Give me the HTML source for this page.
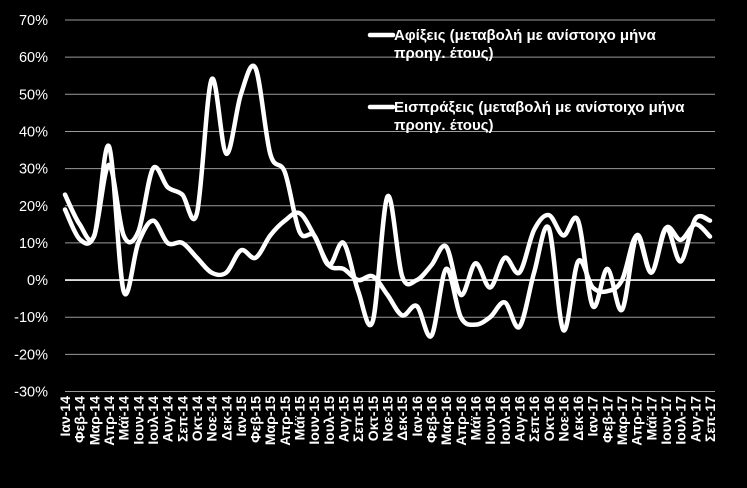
<!DOCTYPE html>
<html><head><meta charset="utf-8"><style>
html,body{margin:0;padding:0;background:#000;}
svg{display:block;font-family:"Liberation Sans","DejaVu Sans",sans-serif;}
</style></head><body>
<svg id="chart" width="747" height="488" viewBox="0 0 747 488">
<rect width="747" height="488" fill="#000"/>
<g id="grid"></g>
<g id="yaxis"></g>
<g id="xaxis"></g>
<g id="series"></g>
<g font-weight="bold" font-size="15" fill="#fff">
  <g>
    <line x1="370" y1="35" x2="393" y2="35" stroke="#fff" stroke-width="4.5" stroke-linecap="round"/>
    <text x="394" y="40">Αφίξεις (μεταβολή με ανίστοιχο μήνα</text>
    <text x="394" y="58">προηγ. έτους)</text>
  </g>
  <g>
    <line x1="370" y1="107" x2="393" y2="107" stroke="#fff" stroke-width="4.5" stroke-linecap="round"/>
    <text x="394" y="112">Εισπράξεις (μεταβολή με ανίστοιχο μήνα</text>
    <text x="394" y="130">προηγ. έτους)</text>
  </g>
</g>
</svg>
<script>
const categories = ["Ιαν-14","Φεβ-14","Μαρ-14","Απρ-14","Μάϊ-14","Ιουν-14","Ιουλ-14","Αυγ-14","Σεπ-14","Οκτ-14","Νοε-14","Δεκ-14",
"Ιαν-15","Φεβ-15","Μαρ-15","Απρ-15","Μάϊ-15","Ιουν-15","Ιουλ-15","Αυγ-15","Σεπ-15","Οκτ-15","Νοε-15","Δεκ-15",
"Ιαν-16","Φεβ-16","Μαρ-16","Απρ-16","Μάϊ-16","Ιουν-16","Ιουλ-16","Αυγ-16","Σεπ-16","Οκτ-16","Νοε-16","Δεκ-16",
"Ιαν-17","Φεβ-17","Μαρ-17","Απρ-17","Μάϊ-17","Ιουν-17","Ιουλ-17","Αυγ-17","Σεπ-17"];
const receipts = [19,11,12,31,12,13,30,25,23,18,54,34,50,57,34,29,13,12,4,10,-3,-11,22.5,1,0,4,9,-4,4.5,-2,6,2,13.5,17.5,12,16,-7,3,-8,12,2,14,5,16.5,16];
const arrivals = [23,15,12,36,-3,10,16,10,10,6,2,2,8,6,12,16,18,12,4,3,0,1,-4,-9.5,-7,-15,3,-10,-12,-10,-6,-12.6,2,14,-13.5,5,-2,-3,0,12,2,14,10.8,15,11.7];
const yTicks = [-30,-20,-10,0,10,20,30,40,50,60,70];

const NS="http://www.w3.org/2000/svg";
const x0=65, x1=710, gx1=715, yTop=20, yBot=391.5, vMin=-30, vMax=70;
function xScale(i){return x0+(x1-x0)*i/(categories.length-1);}
function yScale(v){return yBot-(v-vMin)/(vMax-vMin)*(yBot-yTop);}
function mk(tag,attrs,parent){const e=document.createElementNS(NS,tag);for(const k in attrs)e.setAttribute(k,attrs[k]);parent.appendChild(e);return e;}

const grid=document.getElementById('grid'), yax=document.getElementById('yaxis'), xax=document.getElementById('xaxis'), ser=document.getElementById('series');
yTicks.forEach(t=>{
  const y=yScale(t);
  const l=mk('line',{x1:x0,x2:gx1,y1:y,y2:y,stroke:t===0?'#fff':'#9a9a9a','stroke-width':t===0?1.6:1},grid);
  
  
  const tx=mk('text',{x:48,y:y+5,'text-anchor':'end','font-size':14.5,fill:'#fff'},yax);
  tx.textContent=t+'%';
  
  
});
categories.forEach((c,i)=>{
  const x=xScale(i)+5;
  const tx=mk('text',{x:0,y:0,transform:'translate('+x+',396) rotate(-90)','text-anchor':'end','font-size':14,'font-weight':'bold',fill:'#fff'},xax);
  tx.textContent=c;
  
  
});
function smoothPath(vals){
  const p=vals.map((v,i)=>[xScale(i),yScale(v)]);
  let d='M'+p[0][0]+','+p[0][1];
  for(let i=0;i<p.length-1;i++){
    const a=p[Math.max(0,i-1)],b=p[i],c=p[i+1],e=p[Math.min(p.length-1,i+2)];
    const t=1/6;
    d+=' C'+(b[0]+(c[0]-a[0])*t)+','+(b[1]+(c[1]-a[1])*t)+' '+(c[0]-(e[0]-b[0])*t)+','+(c[1]-(e[1]-b[1])*t)+' '+c[0]+','+c[1];
  }
  return d;
}
const p1=mk('path',{d:smoothPath(receipts),fill:'none',stroke:'#fff','stroke-width':4.5,'stroke-linejoin':'round','stroke-linecap':'round'},ser);


const p2=mk('path',{d:smoothPath(arrivals),fill:'none',stroke:'#fff','stroke-width':4.5,'stroke-linejoin':'round','stroke-linecap':'round'},ser);


</script>
</body></html>
